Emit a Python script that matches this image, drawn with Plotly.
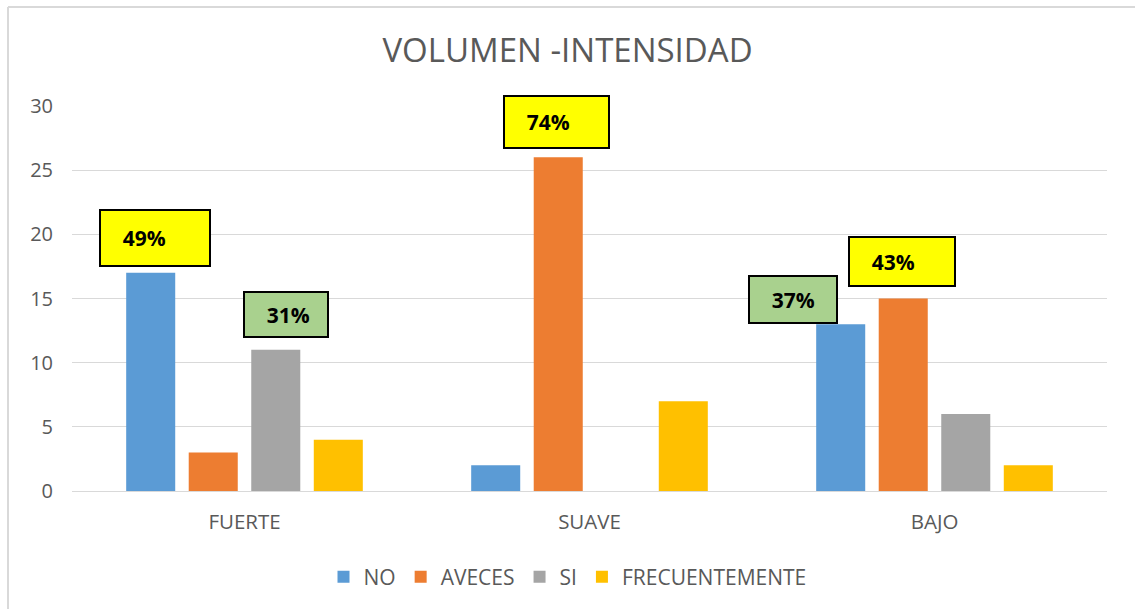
import plotly.graph_objects as go

categories = ["FUERTE", "SUAVE", "BAJO"]
series_names = ["NO", "AVECES", "SI", "FRECUENTEMENTE"]
no_vals = [17, 2, 13]
aveces_vals = [3, 26, 15]
si_vals = [11, 0, 6]
frec_vals = [4, 7, 2]
colors = ["#5B9BD5", "#ED7D31", "#A5A5A5", "#FFC000"]

# callouts: (category index, series index, label, fill)
callout_cat = [0, 0, 1, 2, 2]
callout_series = [0, 2, 1, 0, 1]
callout_text = ["49%", "31%", "74%", "37%", "43%"]
callout_fill = ["#FFFF00", "#A9D18E", "#FFFF00", "#A9D18E", "#FFFF00"]
# styling of the callout boxes (px): width, height, x shift, y gap
callout_w = [112, 86, 107, 90, 108]
callout_h = [58, 47, 54, 49, 51]
callout_dx = [4.5, 10.5, -2, -47.5, -1]
callout_dy = [6, 12, 8, 0, 12]

all_vals = [no_vals, aveces_vals, si_vals, frec_vals]

W, H = 1135, 609
ML, MR, MT, MB = 72, 28, 106, 118
BARGAP = 0.275
GROUPGAP = 0.216
FONT = "Open Sans"
GREY = "#595959"

fig = go.Figure()
for name, vals, col in zip(series_names, all_vals, colors):
    fig.add_trace(go.Bar(name=name, x=categories, y=vals,
                         marker=dict(color=col, line=dict(width=0))))

slot = (1 - BARGAP) / len(series_names)
annotations = []
for ci, si, txt, fill, bw, bh, dx, dy in zip(callout_cat, callout_series, callout_text,
                                            callout_fill, callout_w, callout_h,
                                            callout_dx, callout_dy):
    xpos = ci + (si - (len(series_names) - 1) / 2) * slot
    annotations.append(dict(
        x=xpos, y=all_vals[si][ci], xref="x", yref="y",
        xanchor="center", yanchor="bottom", xshift=dx, yshift=dy,
        text="&nbsp;&nbsp;&nbsp;&nbsp;" + txt, showarrow=False, align="left",
        width=bw - 4, height=bh - 4, valign="middle",
        bgcolor=fill, bordercolor="#000000", borderwidth=2, borderpad=0,
        font=dict(family=FONT, size=21, color="#000000", weight="bold"),
    ))

pw = W - ML - MR
ph = H - MT - MB
# chart frame (top and left edges)
fx0 = (8 - ML) / pw
fy_top = 1 + (MT - 7) / ph
fy_bot = -(MB) / ph
fx1 = 1 + MR / pw
shapes = [
    dict(type="line", xref="paper", yref="paper", x0=fx0, x1=fx1, y0=fy_top, y1=fy_top,
         line=dict(color="#D9D9D9", width=2)),
    dict(type="line", xref="paper", yref="paper", x0=fx0, x1=fx0, y0=fy_top, y1=fy_bot,
         line=dict(color="#D9D9D9", width=2)),
]

fig.update_layout(
    width=W, height=H,
    margin=dict(l=ML, r=MR, t=MT, b=MB, autoexpand=False),
    paper_bgcolor="white", plot_bgcolor="white",
    barmode="group", bargap=BARGAP, bargroupgap=GROUPGAP,
    title=dict(text="VOLUMEN -INTENSIDAD", x=0.5, xref="container", xanchor="center",
               y=1 - 50 / H, yref="container", yanchor="middle",
               font=dict(family=FONT, size=33, color=GREY)),
    font=dict(family=FONT, color=GREY),
    legend=dict(orientation="h", x=0.5, xref="container", xanchor="center",
                y=1 - 577 / H, yref="container", yanchor="middle",
                font=dict(family=FONT, size=21, color=GREY), itemwidth=30,
                traceorder="normal"),
    annotations=annotations,
    shapes=shapes,
)
fig.update_yaxes(range=[0, 30], dtick=5, showgrid=True, gridcolor="#D9D9D9", gridwidth=1,
                 zeroline=False, showline=False, ticks="", ticklabelstandoff=18,
                 tickfont=dict(family=FONT, size=20, color=GREY))
fig.update_xaxes(showline=True, linecolor="#D9D9D9", linewidth=1, ticks="",
                 ticklabelstandoff=12, tickfont=dict(family=FONT, size=20.5, color=GREY))

fig.write_html("out.html", config={"displayModeBar": False},
               post_script="document.body.style.margin='0';document.body.style.overflow='hidden';")
